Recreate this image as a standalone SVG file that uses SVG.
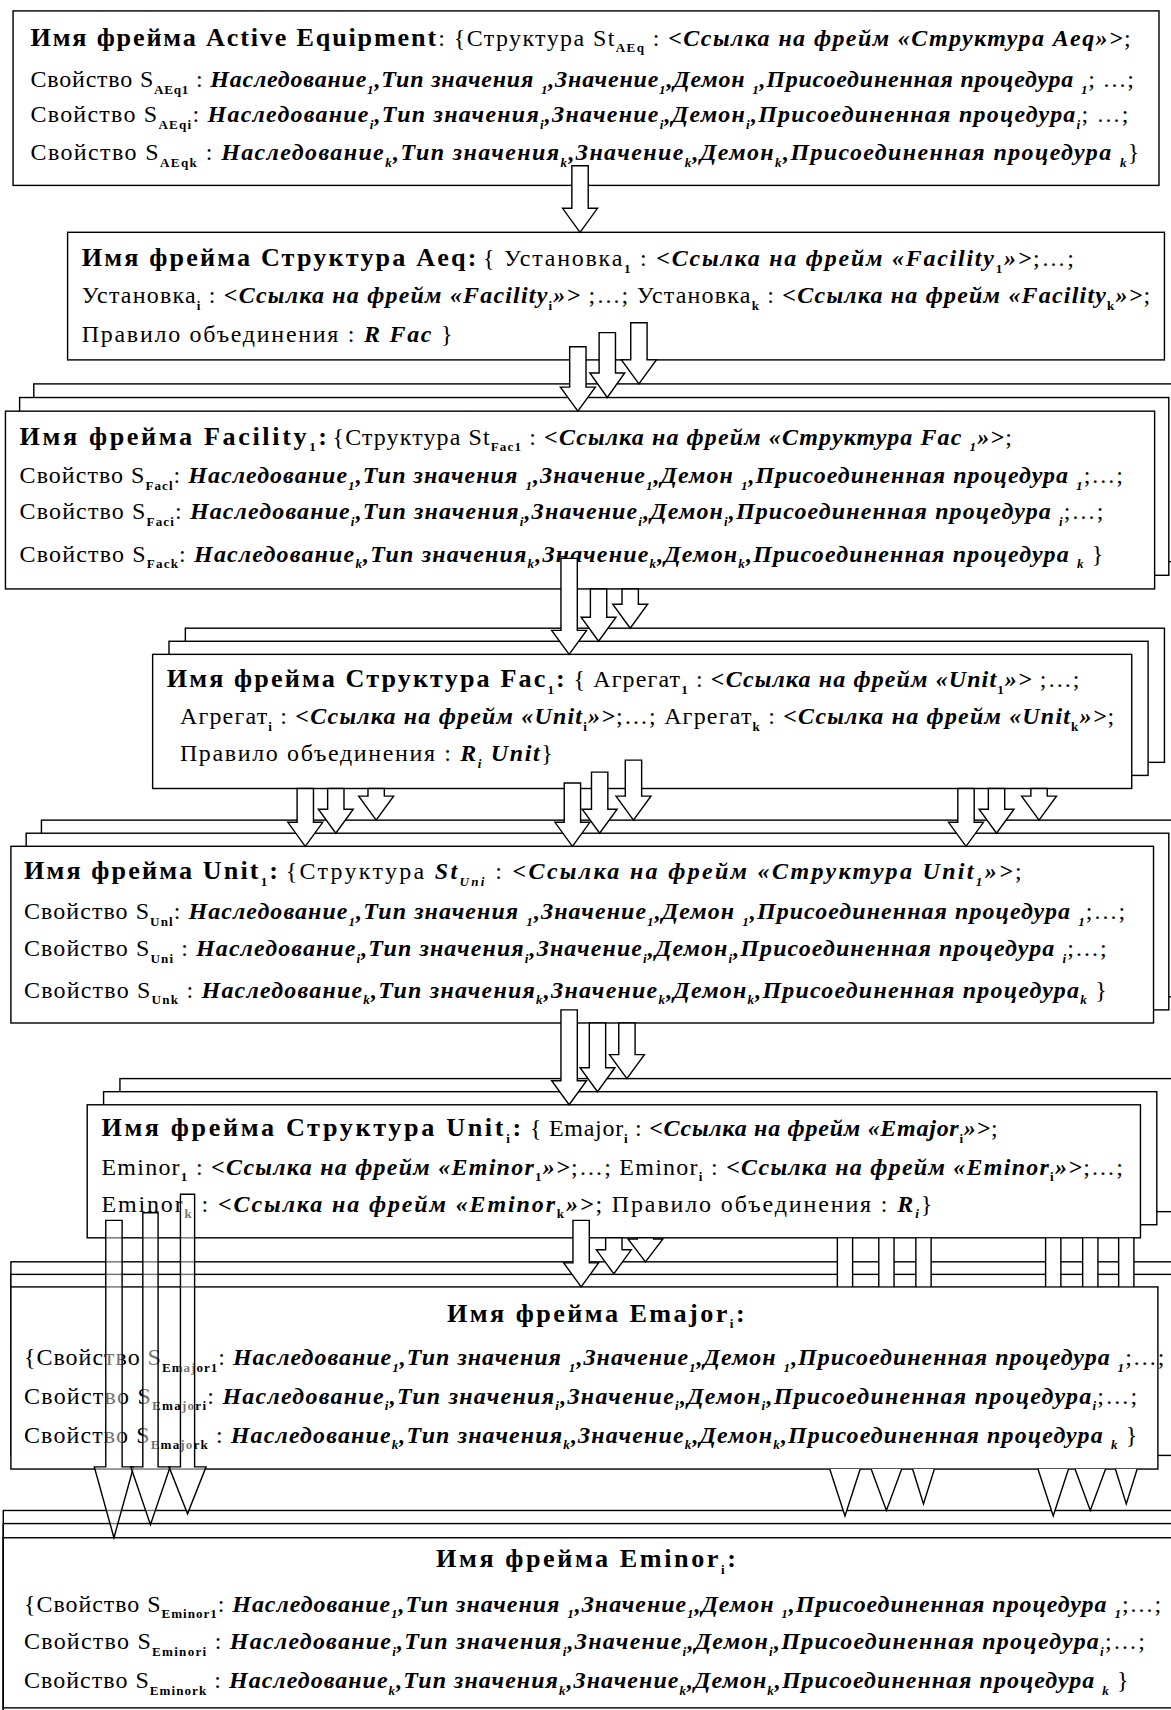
<svg xmlns="http://www.w3.org/2000/svg" width="1171" height="1710" viewBox="0 0 1171 1710">
<style>
.t{font-family:"Liberation Serif","Times New Roman",serif;font-size:22px;fill:#000}
.h{font-weight:700;font-size:24px}
.i{font-style:italic;font-weight:700}
.s{font-size:12px;font-weight:700;font-style:normal}
.si{font-size:12px;font-style:italic;font-weight:700}
.box{fill:#fff;stroke:#000;stroke-width:1.3}
.arr{fill:#fff;stroke:#000;stroke-width:1.3;stroke-linejoin:miter}
.arr2{fill:#fff;fill-opacity:.45;stroke:#000;stroke-width:1.3}
.ln{fill:none;stroke:#000;stroke-width:1.3}
</style>
<rect width="1171" height="1710" fill="#fff"/>
<g transform="scale(1.0903,1.0906)">
<g id="n1">
<rect class="box" x="12" y="10" width="1051" height="160"/>
<text class="t h" x="28" y="42" textLength="372" lengthAdjust="spacing">Имя фрейма Active Equipment</text>
<text class="t" x="402" y="42" textLength="635" lengthAdjust="spacing">: {Структура St<tspan class="s" dy="6">AEq</tspan><tspan dy="-6"> : </tspan><tspan class="i">&lt;Ссылка на фрейм «Структура Aeq»&gt;</tspan>;</text>
<text class="t" x="28" y="80" textLength="1012" lengthAdjust="spacing">Свойство S<tspan class="s" dy="6">AEq1</tspan><tspan dy="-6"> : </tspan><tspan class="i">Наследование</tspan><tspan class="si" dy="6">1</tspan><tspan class="i" dy="-6">,Тип значения </tspan><tspan class="si" dy="6">1</tspan><tspan class="i" dy="-6">,Значение</tspan><tspan class="si" dy="6">1</tspan><tspan class="i" dy="-6">,Демон </tspan><tspan class="si" dy="6">1</tspan><tspan class="i" dy="-6">,Присоединенная процедура </tspan><tspan class="si" dy="6">1</tspan><tspan dy="-6">; …;</tspan></text>
<text class="t" x="28" y="112" textLength="1007" lengthAdjust="spacing">Свойство S<tspan class="s" dy="6">AEqi</tspan><tspan dy="-6">: </tspan><tspan class="i">Наследование</tspan><tspan class="si" dy="6">i</tspan><tspan class="i" dy="-6">,Тип значения</tspan><tspan class="si" dy="6">i</tspan><tspan class="i" dy="-6">,Значение</tspan><tspan class="si" dy="6">i</tspan><tspan class="i" dy="-6">,Демон</tspan><tspan class="si" dy="6">i</tspan><tspan class="i" dy="-6">,Присоединенная процедура</tspan><tspan class="si" dy="6">i</tspan><tspan dy="-6">; …;</tspan></text>
<text class="t" x="28" y="147" textLength="1017" lengthAdjust="spacing">Свойство S<tspan class="s" dy="6">AEqk</tspan><tspan dy="-6"> : </tspan><tspan class="i">Наследование</tspan><tspan class="si" dy="6">k</tspan><tspan class="i" dy="-6">,Тип значения</tspan><tspan class="si" dy="6">k</tspan><tspan class="i" dy="-6">,Значение</tspan><tspan class="si" dy="6">k</tspan><tspan class="i" dy="-6">,Демон</tspan><tspan class="si" dy="6">k</tspan><tspan class="i" dy="-6">,Присоединенная процедура </tspan><tspan class="si" dy="6">k</tspan><tspan dy="-6">}</tspan></text>
</g>
<g id="n2">
<rect class="box" x="62" y="213" width="1006" height="117"/>
<text class="t h" x="75" y="244" textLength="362" lengthAdjust="spacing">Имя фрейма Структура Aeq:</text>
<text class="t" x="443" y="244" textLength="542" lengthAdjust="spacing">{ Установка<tspan class="s" dy="6">1</tspan><tspan dy="-6"> : </tspan><tspan class="i">&lt;Ссылка на фрейм «Facility</tspan><tspan class="s" dy="6">1</tspan><tspan class="i" dy="-6">»&gt;</tspan>;…;</text>
<text class="t" x="75" y="278" textLength="980" lengthAdjust="spacing">Установка<tspan class="s" dy="6">i</tspan><tspan dy="-6"> : </tspan><tspan class="i">&lt;Ссылка на фрейм «Facility</tspan><tspan class="s" dy="6">i</tspan><tspan class="i" dy="-6">»&gt;</tspan> ;…; Установка<tspan class="s" dy="6">k</tspan><tspan dy="-6"> : </tspan><tspan class="i">&lt;Ссылка на фрейм «Facility</tspan><tspan class="s" dy="6">k</tspan><tspan class="i" dy="-6">»&gt;</tspan>;</text>
<text class="t" x="75" y="314" textLength="340" lengthAdjust="spacing">Правило объединения : <tspan class="i">R Fac</tspan> }</text>
</g>
<g id="n3">
<rect class="box" x="31" y="352" width="1054" height="163"/>
<rect class="box" x="18" y="364.5" width="1054" height="163"/>
<rect class="box" x="5" y="377" width="1054" height="163"/>
<text class="t h" x="18" y="408" textLength="282" lengthAdjust="spacing">Имя фрейма  Facility<tspan class="s" dy="6">1</tspan><tspan dy="-6">:</tspan></text>
<text class="t" x="305" y="408" textLength="623" lengthAdjust="spacing">{Структура St<tspan class="s" dy="6">Fac1</tspan><tspan dy="-6"> : </tspan><tspan class="i">&lt;Ссылка на фрейм «Структура Fac </tspan><tspan class="si" dy="6">1</tspan><tspan class="i" dy="-6">»&gt;</tspan>;</text>
<text class="t" x="18" y="443" textLength="1012" lengthAdjust="spacing">Свойство S<tspan class="s" dy="6">Facl</tspan><tspan dy="-6">: </tspan><tspan class="i">Наследование</tspan><tspan class="si" dy="6">1</tspan><tspan class="i" dy="-6">,Тип значения </tspan><tspan class="si" dy="6">1</tspan><tspan class="i" dy="-6">,Значение</tspan><tspan class="si" dy="6">1</tspan><tspan class="i" dy="-6">,Демон </tspan><tspan class="si" dy="6">1</tspan><tspan class="i" dy="-6">,Присоединенная процедура </tspan><tspan class="si" dy="6">1</tspan><tspan dy="-6">;…;</tspan></text>
<text class="t" x="18" y="476" textLength="994" lengthAdjust="spacing">Свойство S<tspan class="s" dy="6">Faci</tspan><tspan dy="-6">: </tspan><tspan class="i">Наследование</tspan><tspan class="si" dy="6">i</tspan><tspan class="i" dy="-6">,Тип значения</tspan><tspan class="si" dy="6">i</tspan><tspan class="i" dy="-6">,Значение</tspan><tspan class="si" dy="6">i</tspan><tspan class="i" dy="-6">,Демон</tspan><tspan class="si" dy="6">i</tspan><tspan class="i" dy="-6">,Присоединенная процедура </tspan><tspan class="si" dy="6">i</tspan><tspan dy="-6">;…;</tspan></text>
<text class="t" x="18" y="515" textLength="994" lengthAdjust="spacing">Свойство S<tspan class="s" dy="6">Fack</tspan><tspan dy="-6">: </tspan><tspan class="i">Наследование</tspan><tspan class="si" dy="6">k</tspan><tspan class="i" dy="-6">,Тип значения</tspan><tspan class="si" dy="6">k</tspan><tspan class="i" dy="-6">,Значение</tspan><tspan class="si" dy="6">k</tspan><tspan class="i" dy="-6">,Демон</tspan><tspan class="si" dy="6">k</tspan><tspan class="i" dy="-6">,Присоединенная процедура </tspan><tspan class="si" dy="6">k</tspan><tspan dy="-6"> }</tspan></text>
</g>
<g id="n4">
<rect class="box" x="170" y="576" width="898" height="123"/>
<rect class="box" x="155" y="588" width="898" height="123"/>
<rect class="box" x="140" y="600" width="898" height="123"/>
<text class="t h" x="153" y="630" textLength="365" lengthAdjust="spacing">Имя фрейма Структура Fac<tspan class="s" dy="6">1</tspan><tspan dy="-6">:</tspan></text>
<text class="t" x="526" y="630" textLength="464" lengthAdjust="spacing">{ Агрегат<tspan class="s" dy="6">1</tspan><tspan dy="-6"> : </tspan><tspan class="i">&lt;Ссылка на фрейм «Unit</tspan><tspan class="s" dy="6">1</tspan><tspan class="i" dy="-6">»&gt;</tspan> ;…;</text>
<text class="t" x="165" y="664" textLength="857" lengthAdjust="spacing">Агрегат<tspan class="s" dy="6">i</tspan><tspan dy="-6"> : </tspan><tspan class="i">&lt;Ссылка на фрейм «Unit</tspan><tspan class="s" dy="6">i</tspan><tspan class="i" dy="-6">»&gt;</tspan>;…; Агрегат<tspan class="s" dy="6">k</tspan><tspan dy="-6"> : </tspan><tspan class="i">&lt;Ссылка на фрейм «Unit</tspan><tspan class="s" dy="6">k</tspan><tspan class="i" dy="-6">»&gt;</tspan>;</text>
<text class="t" x="165" y="698" textLength="342" lengthAdjust="spacing">Правило объединения : <tspan class="i">R</tspan><tspan class="si" dy="6">i</tspan><tspan class="i" dy="-6"> Unit</tspan>}</text>
</g>
<g id="n5">
<rect class="box" x="38" y="752" width="1048" height="162"/>
<rect class="box" x="24" y="764" width="1048" height="162"/>
<rect class="box" x="10" y="776" width="1048" height="162"/>
<text class="t h" x="22" y="806" textLength="233" lengthAdjust="spacing">Имя фрейма  Unit<tspan class="s" dy="6">1</tspan><tspan dy="-6">:</tspan></text>
<text class="t" x="262" y="806" textLength="675" lengthAdjust="spacing">{Структура <tspan class="i">St</tspan><tspan class="si" dy="6">Uni</tspan><tspan dy="-6"> : </tspan><tspan class="i">&lt;Ссылка на фрейм «Структура Unit</tspan><tspan class="si" dy="6">1</tspan><tspan class="i" dy="-6">»&gt;</tspan>;</text>
<text class="t" x="22" y="843" textLength="1010" lengthAdjust="spacing">Свойство S<tspan class="s" dy="6">Unl</tspan><tspan dy="-6">: </tspan><tspan class="i">Наследование</tspan><tspan class="si" dy="6">1</tspan><tspan class="i" dy="-6">,Тип значения </tspan><tspan class="si" dy="6">1</tspan><tspan class="i" dy="-6">,Значение</tspan><tspan class="si" dy="6">1</tspan><tspan class="i" dy="-6">,Демон </tspan><tspan class="si" dy="6">1</tspan><tspan class="i" dy="-6">,Присоединенная процедура </tspan><tspan class="si" dy="6">1</tspan><tspan dy="-6">;…;</tspan></text>
<text class="t" x="22" y="877" textLength="993" lengthAdjust="spacing">Свойство S<tspan class="s" dy="6">Uni</tspan><tspan dy="-6"> : </tspan><tspan class="i">Наследование</tspan><tspan class="si" dy="6">i</tspan><tspan class="i" dy="-6">,Тип значения</tspan><tspan class="si" dy="6">i</tspan><tspan class="i" dy="-6">,Значение</tspan><tspan class="si" dy="6">i</tspan><tspan class="i" dy="-6">,Демон</tspan><tspan class="si" dy="6">i</tspan><tspan class="i" dy="-6">,Присоединенная процедура </tspan><tspan class="si" dy="6">i</tspan><tspan dy="-6">;…;</tspan></text>
<text class="t" x="22" y="915" textLength="993" lengthAdjust="spacing">Свойство S<tspan class="s" dy="6">Unk</tspan><tspan dy="-6"> : </tspan><tspan class="i">Наследование</tspan><tspan class="si" dy="6">k</tspan><tspan class="i" dy="-6">,Тип значения</tspan><tspan class="si" dy="6">k</tspan><tspan class="i" dy="-6">,Значение</tspan><tspan class="si" dy="6">k</tspan><tspan class="i" dy="-6">,Демон</tspan><tspan class="si" dy="6">k</tspan><tspan class="i" dy="-6">,Присоединенная процедура</tspan><tspan class="si" dy="6">k</tspan><tspan dy="-6"> }</tspan></text>
</g>
<g id="n6">
<rect class="box" x="110" y="989" width="966" height="122"/>
<rect class="box" x="95" y="1001" width="966" height="122"/>
<rect class="box" x="80" y="1013" width="966" height="122"/>
<text class="t h" x="93" y="1042" textLength="385" lengthAdjust="spacing">Имя фрейма Структура Unit<tspan class="s" dy="6">i</tspan><tspan dy="-6">:</tspan></text>
<text class="t" x="486" y="1042" textLength="429" lengthAdjust="spacing">{ Emajor<tspan class="s" dy="6">i</tspan><tspan dy="-6"> : </tspan><tspan class="i">&lt;Ссылка на фрейм «Emajor</tspan><tspan class="s" dy="6">i</tspan><tspan class="i" dy="-6">»&gt;</tspan>;</text>
<text class="t" x="93" y="1077" textLength="937" lengthAdjust="spacing">Eminor<tspan class="s" dy="6">1</tspan><tspan dy="-6"> : </tspan><tspan class="i">&lt;Ссылка на фрейм «Eminor</tspan><tspan class="s" dy="6">1</tspan><tspan class="i" dy="-6">»&gt;</tspan>;…; Eminor<tspan class="s" dy="6">i</tspan><tspan dy="-6"> : </tspan><tspan class="i">&lt;Ссылка на фрейм «Eminor</tspan><tspan class="s" dy="6">i</tspan><tspan class="i" dy="-6">»&gt;</tspan>;…;</text>
<text class="t" x="93" y="1111" textLength="762" lengthAdjust="spacing">Eminor<tspan class="s" dy="6">k</tspan><tspan dy="-6"> : </tspan><tspan class="i">&lt;Ссылка на фрейм «Eminor</tspan><tspan class="s" dy="6">k</tspan><tspan class="i" dy="-6">»&gt;</tspan>; Правило объединения : <tspan class="i">R</tspan><tspan class="si" dy="6">i</tspan><tspan dy="-6">}</tspan></text>
</g>
<g id="n7">
<rect class="box" x="10" y="1157" width="1085" height="166"/>
<rect class="box" x="10" y="1168.5" width="1085" height="166"/>
<rect class="box" x="10" y="1180" width="1052" height="167"/>
<text class="t h" x="410" y="1212" textLength="273" lengthAdjust="spacing">Имя фрейма  Emajor<tspan class="s" dy="6">i</tspan><tspan dy="-6">:</tspan></text>
<text class="t" x="22" y="1252" textLength="1046" lengthAdjust="spacing">{Свойство S<tspan class="s" font-size="10" dy="6">Emajor1</tspan><tspan dy="-6">: </tspan><tspan class="i">Наследование</tspan><tspan class="si" dy="6">1</tspan><tspan class="i" dy="-6">,Тип значения </tspan><tspan class="si" dy="6">1</tspan><tspan class="i" dy="-6">,Значение</tspan><tspan class="si" dy="6">1</tspan><tspan class="i" dy="-6">,Демон </tspan><tspan class="si" dy="6">1</tspan><tspan class="i" dy="-6">,Присоединенная процедура </tspan><tspan class="si" dy="6">1</tspan><tspan dy="-6">;…;</tspan></text>
<text class="t" x="22" y="1287" textLength="1021" lengthAdjust="spacing">Свойство S<tspan class="s" font-size="10" dy="6">Emajori</tspan><tspan dy="-6">: </tspan><tspan class="i">Наследование</tspan><tspan class="si" dy="6">i</tspan><tspan class="i" dy="-6">,Тип значения</tspan><tspan class="si" dy="6">i</tspan><tspan class="i" dy="-6">,Значение</tspan><tspan class="si" dy="6">i</tspan><tspan class="i" dy="-6">,Демон</tspan><tspan class="si" dy="6">i</tspan><tspan class="i" dy="-6">,Присоединенная процедура</tspan><tspan class="si" dy="6">i</tspan><tspan dy="-6">;…;</tspan></text>
<text class="t" x="22" y="1323" textLength="1021" lengthAdjust="spacing">Свойство S<tspan class="s" font-size="10" dy="6">Emajork</tspan><tspan dy="-6"> : </tspan><tspan class="i">Наследование</tspan><tspan class="si" dy="6">k</tspan><tspan class="i" dy="-6">,Тип значения</tspan><tspan class="si" dy="6">k</tspan><tspan class="i" dy="-6">,Значение</tspan><tspan class="si" dy="6">k</tspan><tspan class="i" dy="-6">,Демон</tspan><tspan class="si" dy="6">k</tspan><tspan class="i" dy="-6">,Присоединенная процедура </tspan><tspan class="si" dy="6">k</tspan><tspan dy="-6"> }</tspan></text>
</g>
<g id="n8">
<rect class="box" x="3" y="1385" width="1090" height="200"/>
<rect class="box" x="3" y="1397" width="1090" height="200"/>
<rect class="box" x="3" y="1410" width="1075" height="156"/>
<text class="t h" x="400" y="1437" textLength="275" lengthAdjust="spacing">Имя фрейма  Eminor<tspan class="s" dy="6">i</tspan><tspan dy="-6">:</tspan></text>
<text class="t" x="22" y="1478" textLength="1043" lengthAdjust="spacing">{Свойство S<tspan class="s" font-size="10" dy="6">Eminor1</tspan><tspan dy="-6">: </tspan><tspan class="i">Наследование</tspan><tspan class="si" dy="6">1</tspan><tspan class="i" dy="-6">,Тип значения </tspan><tspan class="si" dy="6">1</tspan><tspan class="i" dy="-6">,Значение</tspan><tspan class="si" dy="6">1</tspan><tspan class="i" dy="-6">,Демон </tspan><tspan class="si" dy="6">1</tspan><tspan class="i" dy="-6">,Присоединенная процедура </tspan><tspan class="si" dy="6">1</tspan><tspan dy="-6">;…;</tspan></text>
<text class="t" x="22" y="1512" textLength="1028" lengthAdjust="spacing">Свойство S<tspan class="s" font-size="10" dy="6">Eminori</tspan><tspan dy="-6"> : </tspan><tspan class="i">Наследование</tspan><tspan class="si" dy="6">i</tspan><tspan class="i" dy="-6">,Тип значения</tspan><tspan class="si" dy="6">i</tspan><tspan class="i" dy="-6">,Значение</tspan><tspan class="si" dy="6">i</tspan><tspan class="i" dy="-6">,Демон</tspan><tspan class="si" dy="6">i</tspan><tspan class="i" dy="-6">,Присоединенная процедура</tspan><tspan class="si" dy="6">i</tspan><tspan dy="-6">;…;</tspan></text>
<text class="t" x="22" y="1548" textLength="1013" lengthAdjust="spacing">Свойство S<tspan class="s" font-size="10" dy="6">Eminork</tspan><tspan dy="-6"> : </tspan><tspan class="i">Наследование</tspan><tspan class="si" dy="6">k</tspan><tspan class="i" dy="-6">,Тип значения</tspan><tspan class="si" dy="6">k</tspan><tspan class="i" dy="-6">,Значение</tspan><tspan class="si" dy="6">k</tspan><tspan class="i" dy="-6">,Демон</tspan><tspan class="si" dy="6">k</tspan><tspan class="i" dy="-6">,Присоединенная процедура </tspan><tspan class="si" dy="6">k</tspan><tspan dy="-6"> }</tspan></text>
</g>
<g id="connectors">
<polygon class="arr" points="524.5,152 539.5,152 539.5,191 548,191 532,213 516,191 524.5,191"/>
<polygon class="arr" points="522.5,318 537.5,318 537.5,355 546,355 530,377 514,355 522.5,355"/>
<polygon class="arr" points="549.5,305 564.5,305 564.5,342 573,342 557,364.5 541,342 549.5,342"/>
<polygon class="arr" points="578.5,296 593.5,296 593.5,330 602,330 586,352 570,330 578.5,330"/>
<polygon class="arr" points="514.5,512 529.5,512 529.5,578 538,578 522,600 506,578 514.5,578"/>
<polygon class="arr" points="541.5,540 556.5,540 556.5,566 565,566 549,588 533,566 541.5,566"/>
<polygon class="arr" points="570.5,540 585.5,540 585.5,554 594,554 578,576 562,554 570.5,554"/>
<polygon class="arr" points="272.5,723 287.5,723 287.5,754 296,754 280,776 264,754 272.5,754"/>
<polygon class="arr" points="300.5,723 315.5,723 315.5,742 324,742 308,764 292,742 300.5,742"/>
<polygon class="arr" points="337.5,723 352.5,723 352.5,730 361,730 345,752 329,730 337.5,730"/>
<polygon class="arr" points="517.5,718 532.5,718 532.5,754 541,754 525,776 509,754 517.5,754"/>
<polygon class="arr" points="542.5,708 557.5,708 557.5,742 566,742 550,764 534,742 542.5,742"/>
<polygon class="arr" points="573.5,697 588.5,697 588.5,730 597,730 581,752 565,730 573.5,730"/>
<polygon class="arr" points="878.5,723 893.5,723 893.5,754 902,754 886,776 870,754 878.5,754"/>
<polygon class="arr" points="906.5,723 921.5,723 921.5,742 930,742 914,764 898,742 906.5,742"/>
<polygon class="arr" points="945.5,723 960.5,723 960.5,730 969,730 953,752 937,730 945.5,730"/>
<polygon class="arr" points="514.5,926 529.5,926 529.5,991 538,991 522,1013 506,991 514.5,991"/>
<polygon class="arr" points="540.5,938 555.5,938 555.5,979 564,979 548,1001 532,979 540.5,979"/>
<polygon class="arr" points="567.5,938 582.5,938 582.5,967 591,967 575,989 559,967 567.5,967"/>
<polygon class="arr" points="525.5,1119 540.5,1119 540.5,1158 549,1158 533,1180 517,1158 525.5,1158"/>
<polygon class="arr" points="555.5,1135 570.5,1135 570.5,1146 579,1146 563,1168 547,1146 555.5,1146"/>
<polygon class="arr" points="584.5,1135 599.5,1135 599.5,1136 608,1136 592,1157 576,1136 584.5,1136"/>
<g id="right-shafts">
<rect x="768" y="1135.7" width="14" height="43.6" fill="#fff"/>
<rect x="806" y="1135.7" width="14" height="43.6" fill="#fff"/>
<rect x="840" y="1135.7" width="14" height="43.6" fill="#fff"/>
<rect x="959" y="1135.7" width="14" height="43.6" fill="#fff"/>
<rect x="993" y="1135.7" width="14" height="43.6" fill="#fff"/>
<rect x="1026" y="1135.7" width="14" height="43.6" fill="#fff"/>
<path class="ln" d="M768,1135V1180M782,1135V1180M806,1135V1180M820,1135V1180M840,1135V1180M854,1135V1180M959,1135V1180M973,1135V1180M993,1135V1180M1007,1135V1180M1026,1135V1180M1040,1135V1180"/>
<path class="arr" d="M761,1347L775,1390L789,1347"/>
<path class="arr" d="M799,1347L813,1385L827,1347"/>
<path class="arr" d="M837,1347L847,1379L857,1347"/>
<path class="arr" d="M952,1347L966,1390L980,1347"/>
<path class="arr" d="M986,1347L1000,1385L1014,1347"/>
<path class="arr" d="M1023,1347L1033,1379L1043,1347"/>
</g>
<polygon class="arr2" points="97,1119 112,1119 112,1345 122.5,1345 104.5,1410 86.5,1345 97,1345"/>
<polygon class="arr2" points="131,1112 145,1112 145,1345 156,1345 138,1398 120,1345 131,1345"/>
<polygon class="arr2" points="165.5,1095 178.5,1095 178.5,1345 189,1345 172,1388 155,1345 165.5,1345"/>
</g>
</g>
</svg>
